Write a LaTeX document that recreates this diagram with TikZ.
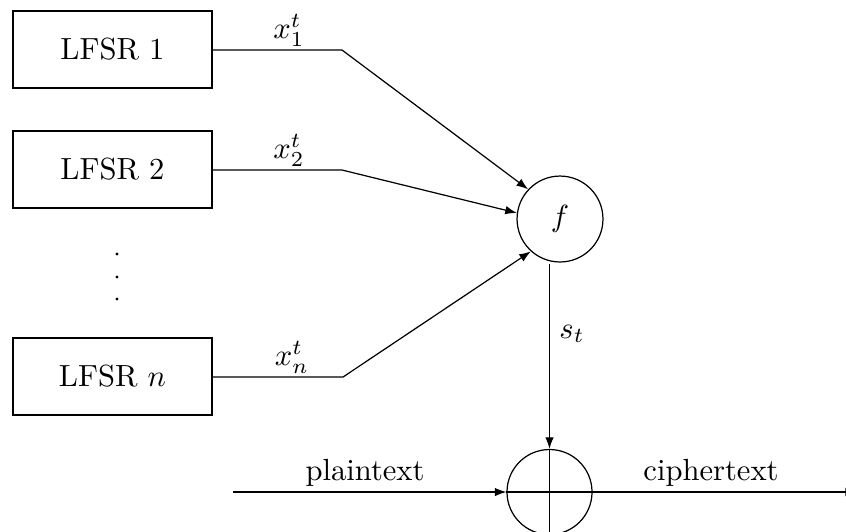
\documentclass[tikz,border=0pt]{standalone}
\usetikzlibrary{arrows.meta}
\begin{document}
\begin{tikzpicture}[x=0.327pt,y=-0.327pt,
  lfsr/.style={draw,minimum width=65.1pt,minimum height=25.2pt,inner sep=0pt},
  fnode/.style={draw,circle,minimum size=28.1pt,inner sep=0pt},
  xornode/.style={draw,circle,minimum size=27.8pt,inner sep=0pt},
  wire/.style={line width=0.4pt},
  arr/.style={wire,-{Latex[length=3.8pt,width=2.8pt]}},
  lbl/.style={inner sep=0pt},
  wirelbl/.style={anchor=south,inner sep=0pt},
  flow/.style={anchor=south,inner sep=1.6pt}]
  \useasboundingbox (0,0) rectangle (846,531);
  \clip (0,0) rectangle (846,531);

  % registers
  \node[lfsr] (r1) at (112.5,49.5) {LFSR 1};
  \node[lfsr] (r2) at (112.5,169.5) {LFSR 2};
  \node[lfsr] (rn) at (112.5,376.5) {LFSR $n$};

  % vertical ellipsis between register 2 and register n
  \fill (117,254) circle[radius=1.6];
  \fill (117,277) circle[radius=1.6];
  \fill (117,299) circle[radius=1.6];

  % combining function and XOR
  \node[fnode] (f) at (560,219) {$f$};
  \node[xornode] (xor) at (549.5,492) {};
  \draw[wire] (xor.north) -- (xor.south);
  \draw[wire] (xor.west) -- (xor.east);

  % bends of the register outputs
  \coordinate (b1) at (342,50);
  \coordinate (b2) at (342,170);
  \coordinate (bn) at (343,377);

  \draw[arr] (r1.east |- b1) -- (b1) -- (f.137);
  \draw[arr] (r2.east |- b2) -- (b2) -- (f.172);
  \draw[arr] (rn.east |- bn) -- (bn) -- (f.228);

  \node[wirelbl] (l1) at (289,47) {$x_1^t$};
  \node[wirelbl] (l2) at (289,167) {$x_2^t$};
  \node[wirelbl] (ln) at (292,374) {$x_n^t$};

  % keystream into the XOR
  \coordinate (ks) at ([yshift=-0.3pt]xor |- f.south);
  \draw[arr] (ks) -- (xor.north);
  \node[lbl] (st) at (572,334) {$s_t$};

  % plaintext in, ciphertext out
  \coordinate (pin) at (233,492);
  \coordinate (cout) at (857,492);
  \draw[arr] (pin) -- (xor.west);
  \draw[arr] (xor.east) -- (cout);
  \node[flow] (pt) at (365,492) {plaintext};
  \node[flow] (ct) at (711,492) {ciphertext};
\end{tikzpicture}
\end{document}
